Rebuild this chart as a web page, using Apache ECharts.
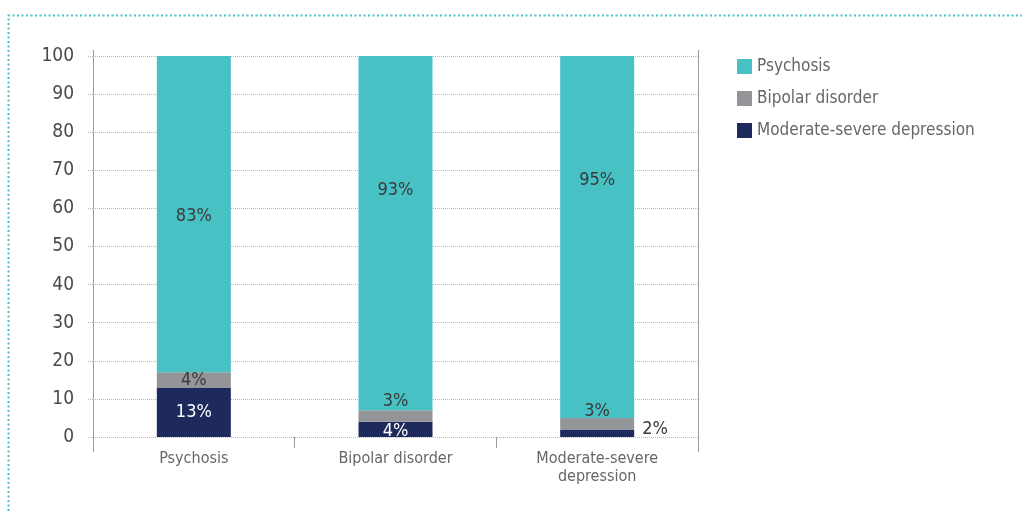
<!DOCTYPE html>
<html>
<head>
<meta charset="utf-8">
<script src="https://cdn.jsdelivr.net/npm/echarts@6/dist/echarts.min.js"></script>
<style>
  html, body { margin: 0; padding: 0; background: #fff; }
  #chart { width: 1022px; height: 511px; }
</style>
</head>
<body>
<div id="chart"></div>
<script>
// Groups along the x axis
const categories = ['Psychosis', 'Bipolar disorder', 'Moderate-severe\ndepression'];

// Share of each diagnosis within a group (%), stacked bottom to top
const depressionValues = [13, 4, 2];
const bipolarValues = [4, 3, 3];
const psychosisValues = [83, 93, 95];

// Value axis ticks
const yMin = 0;
const yMax = 100;
const yStep = 10;

const COLORS = {
  psychosis: '#48C1C4',
  bipolar: '#939598',
  depression: '#1F2A5C',
  text: '#3a3a3a',
  axisText: '#4a4a4a',
  grid: '#b8b8b8',
  frame: '#9a9a9a'
};
const FONT = '"Liberation Sans Narrow", "DejaVu Sans Condensed", "Roboto", sans-serif';

// Plot area in pixels
const G = { left: 93, right: 324, top: 56, bottom: 74 };
const W = 1022, H = 511;

// Per-bar label placement tweaks
const psychosisLabelOffsets = [[0, 2], [0, -43], [0, -57]];
const bipolarLabelPlacement = [
  { position: 'inside' },
  { position: 'top', distance: 0 },
  { position: 'top', distance: -2 }
];
const depressionLabelPlacement = [
  { position: 'inside', color: '#fff' },
  { position: 'inside', color: '#fff', offset: [0, 2] },
  { position: 'right', distance: 8, color: COLORS.text, offset: [0, -4] }
];

const baseLabel = {
  show: true,
  fontFamily: FONT,
  fontSize: 18,
  color: COLORS.text,
  formatter: p => p.value + '%'
};

function items(values, extra) {
  return values.map((v, i) => ({ value: v, label: Object.assign({}, extra[i]) }));
}

const chart = echarts.init(document.getElementById('chart'), null, { renderer: 'canvas' });

const plotRight = W - G.right;
const plotBottom = H - G.bottom;

chart.setOption({
  animation: false,
  backgroundColor: '#fff',
  textStyle: { fontFamily: FONT },
  grid: { left: G.left, right: G.right, top: G.top, bottom: G.bottom, containLabel: false },
  legend: {
    orient: 'vertical',
    left: 732,
    top: 53,
    itemWidth: 15,
    itemHeight: 15,
    itemGap: 15,
    icon: 'rect',
    data: ['Psychosis', 'Bipolar disorder', 'Moderate-severe depression'],
    textStyle: { fontFamily: FONT, fontSize: 17, color: '#666', lineHeight: 15 }
  },
  xAxis: {
    type: 'category',
    data: categories,
    axisLine: { show: false },
    axisTick: { show: true, length: 11, lineStyle: { color: COLORS.frame, width: 1 } },
    axisLabel: {
      fontFamily: FONT, fontSize: 16, color: '#666', margin: 13, lineHeight: 18
    }
  },
  yAxis: {
    type: 'value',
    min: yMin,
    max: yMax,
    interval: yStep,
    axisLine: { show: false },
    axisTick: { show: true, length: 5, lineStyle: { color: COLORS.grid, type: [1, 1] } },
    axisLabel: { fontFamily: FONT, fontSize: 19, color: COLORS.axisText, margin: 19 },
    splitLine: { show: true, lineStyle: { color: COLORS.grid, type: [1, 1], width: 1 } }
  },
  series: [
    {
      name: 'Moderate-severe depression',
      type: 'bar',
      stack: 'total',
      barWidth: 74,
      itemStyle: { color: COLORS.depression },
      label: baseLabel,
      data: items(depressionValues, depressionLabelPlacement)
    },
    {
      name: 'Bipolar disorder',
      type: 'bar',
      stack: 'total',
      barWidth: 74,
      itemStyle: { color: COLORS.bipolar },
      label: baseLabel,
      data: items(bipolarValues, bipolarLabelPlacement)
    },
    {
      name: 'Psychosis',
      type: 'bar',
      stack: 'total',
      barWidth: 74,
      itemStyle: { color: COLORS.psychosis },
      label: Object.assign({}, baseLabel, { position: 'inside' }),
      data: items(psychosisValues, psychosisLabelOffsets.map(o => ({ offset: o })))
    }
  ],
  graphic: [
    // dotted panel border, top and left
    {
      type: 'polyline',
      silent: true,
      shape: { points: [[8.5, H], [8.5, 15.5], [W, 15.5]] },
      style: { stroke: COLORS.psychosis, lineWidth: 2, lineDash: [2, 2.5], fill: null }
    },
    // plot frame verticals
    {
      type: 'line',
      silent: true,
      shape: { x1: G.left + 0.5, y1: G.top - 6, x2: G.left + 0.5, y2: plotBottom + 15 },
      style: { stroke: COLORS.frame, lineWidth: 1 }
    },
    {
      type: 'line',
      silent: true,
      shape: { x1: plotRight + 0.5, y1: G.top - 6, x2: plotRight + 0.5, y2: plotBottom + 15 },
      style: { stroke: COLORS.frame, lineWidth: 1 }
    }
  ]
});
</script>
</body>
</html>
